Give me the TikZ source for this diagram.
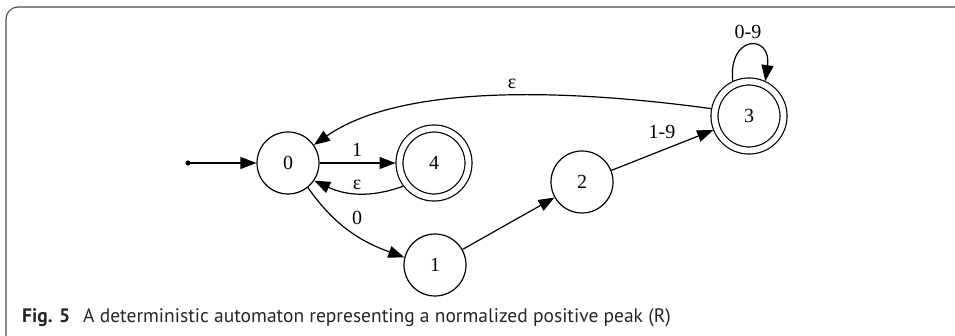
\documentclass[tikz,border=0pt]{standalone}
\usepackage{fontspec}
\setmainfont{Liberation Serif}
\newfontfamily\capfont{PT Sans}
\usetikzlibrary{arrows.meta}

\tikzset{
  state/.style={circle, draw, line width=1.2pt, minimum size=62pt, inner sep=0pt,
    font=\fontsize{20}{22}\selectfont},
  accepting/.style={state, double, double distance=5.8pt, minimum size=69pt, outer sep=4pt},
  arr/.style={line width=1.2pt, -{Triangle[length=16pt, width=12pt]}},
  lbl/.style={font=\fontsize{20}{22}\selectfont, inner sep=0pt},
  frame/.style={draw=black!70, line width=1.1pt, rounded corners=12pt},
  capnormal/.style={font=\capfont\fontsize{19.5}{22}\selectfont, text=black!85},
  capbold/.style={font=\capfont\fontsize{19.5}{22}\selectfont\bfseries, text=black!85}
}

\begin{document}
\begin{tikzpicture}[x=1pt, y=1pt]
  \useasboundingbox (0,0) rectangle (955,-336);
  \clip (0,0) rectangle (955,-336);

  % figure frame (open to the right and bottom)
  \draw[frame] (6,-7) rectangle (990,-350);

  % states
  \node[state] (n0) at (288,-163) {0};
  \node[accepting] (n4) at (434,-163) {4};
  \node[state] (n1) at (435,-265) {1};
  \node[state] (n2) at (582,-182) {2};
  \node[accepting] (n3) at (749,-116) {3};
  \fill (188,-163) circle (2.6pt) coordinate (start);

  % transitions
  \draw[arr] (start) -- (n0);
  \draw[arr] (n0) -- (n4) node[lbl] at (357,-150) {1};
  \draw[arr] (n4.217) to[out=200, in=-25] (n0.-34);
  \node[lbl] (eps1) at (357,-185) {ε};
  \draw[arr] (n0.-51) to[out=-55, in=160] (n1.166);
  \node[lbl] (zero) at (357,-218) {0};
  \draw[arr] (n1) -- (n2);
  \draw[arr] (n2) -- (n3);
  \node[lbl] (onenine) at (662,-132) {1-9};
  \draw[arr] (n3.169) .. controls (560,-88) and (400,-85) .. (n0.35);
  \node[lbl] (eps2) at (512,-84) {ε};
  \draw[arr] (n3.115) .. controls (728,-34) and (772,-34) .. (n3.65);
  \node[lbl] (zeronine) at (748,-32) {0-9};

  % caption
  \node[anchor=base west, inner sep=0pt, capbold] (figno) at (22,-323) {Fig. 5};
  \node[anchor=base west, inner sep=0pt, capnormal] (captxt) at (83,-323) {A deterministic automaton representing a normalized positive peak (R)};
\end{tikzpicture}
\end{document}
